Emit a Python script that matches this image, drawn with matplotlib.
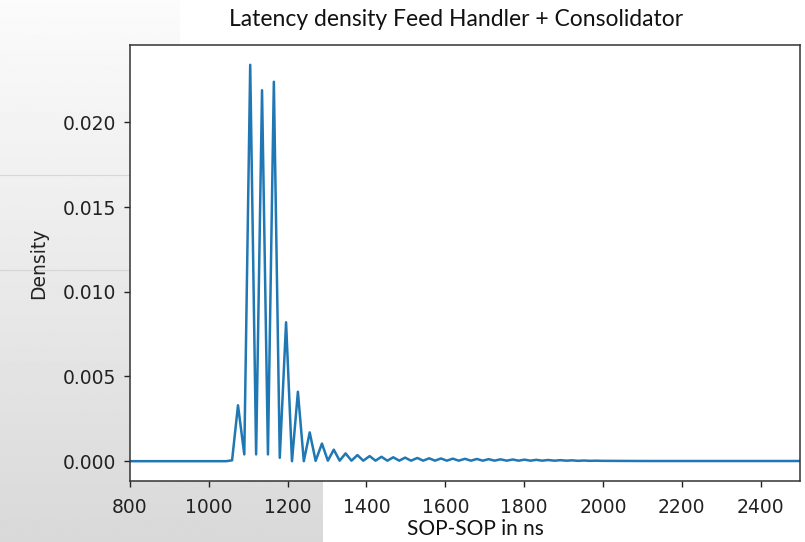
import numpy as np
import matplotlib
matplotlib.use("Agg")
import matplotlib.pyplot as plt
from matplotlib.patches import Rectangle

# ---- data ----
x_ns = [700, 1044, 1059, 1074, 1090, 1105, 1120, 1135, 1150, 1165, 1180,
        1196, 1211, 1226, 1241, 1256, 1271, 1287, 1302, 1317, 1332,
        1347, 1362, 1377, 1392, 1408, 1423, 1438, 1453, 1468, 1483,
        1498, 1513, 1529, 1544, 1559, 1574, 1589, 1604, 1619, 1634,
        1650, 1665, 1680, 1695, 1710, 1725, 1740, 1756, 1771, 1786,
        1801, 1816, 1831, 1846, 1861, 1877, 1892, 1907, 1922, 1937,
        1952, 1967, 1982, 1997, 2100, 2300, 2500, 2600]
density = [0.0, 0.0, 0.00005, 0.0033, 0.0004, 0.0234, 0.0004, 0.0219, 0.0004, 0.0224, 0.0002,
           0.0082, 0.0, 0.0041, 0.0, 0.0017, 0.00002, 0.00104, 0.00003, 0.00068, 0.00003,
           0.00046, 0.00003, 0.00036, 0.00003, 0.00030, 0.00003, 0.00026, 0.00003, 0.00023, 0.00003,
           0.00021, 0.00003, 0.00019, 0.00003, 0.00017, 0.00003, 0.00016, 0.00003, 0.00015, 0.00003,
           0.00014, 0.00003, 0.00013, 0.00003, 0.00012, 0.00003, 0.00011, 0.00003, 0.00010, 0.00003,
           0.00009, 0.00003, 0.00008, 0.00003, 0.00007, 0.00003, 0.00006, 0.00003, 0.00005, 0.00002,
           0.00004, 0.00002, 0.00003, 0.00002, 0.00001, 0.00001, 0.00001, 0.00001]
x_ticks = [800, 1000, 1200, 1400, 1600, 1800, 2000, 2200, 2400]
y_ticks = [0.000, 0.005, 0.010, 0.015, 0.020]
title = "Latency density Feed Handler + Consolidator"
x_label = "SOP-SOP in ns"
y_label = "Density"

W, H = 805, 542
fig = plt.figure(figsize=(W / 100, H / 100), dpi=100)
fig.patch.set_facecolor("white")

# background (screenshot-like gray gradient on the left)
bg = fig.add_axes([0, 0, 1, 1], zorder=0)
bg.axis("off")
grad = np.linspace(0.985, 0.85, 256).reshape(-1, 1)
bg.imshow(grad, cmap="gray", vmin=0, vmax=1, extent=[0, 322, H, 0], aspect="auto", interpolation="bilinear")
bg.add_patch(Rectangle((180, 0), 150, 44, facecolor="white", edgecolor="none"))
bg.plot([0, 130], [175, 175], color="#d6d6d6", lw=0.8)
bg.plot([0, 130], [270, 270], color="#d6d6d6", lw=0.8)
bg.set_xlim(0, W)
bg.set_ylim(H, 0)

ax = fig.add_axes([130 / W, 1 - 481 / H, 670 / W, 436 / H], zorder=1)
ax.set_facecolor("white")
ax.plot(x_ns, density, color="#1f77b4", lw=1.8)
ax.set_xlim(800, 2500)
ax.set_ylim(-0.00117, 0.02457)
ax.set_xticks(x_ticks)
ax.set_yticks(y_ticks)
ax.set_yticklabels([f"{v:.3f}" for v in y_ticks])
for lab in ax.get_xticklabels() + ax.get_yticklabels():
    lab.set_family("DejaVu Sans")
ax.tick_params(labelsize=13.5, length=4.3, width=1, colors="#222222")
ax.tick_params(axis="x", pad=8)
ax.tick_params(axis="y", pad=5.5)
for s in ax.spines.values():
    s.set_color("#333333")
    s.set_linewidth(1.1)
ax.set_ylabel(y_label, fontsize=13.5, family="DejaVu Sans", color="#222222", labelpad=11)

fig.text(456 / W, 1 - 20 / H, title, ha="center", va="center", fontsize=16.5, family="Lato", color="#111111")
fig.text(475 / W, 1 - 529 / H, x_label, ha="center", va="center", fontsize=15, family="Lato", color="#111111")

fig.savefig("out.png", dpi=100)
